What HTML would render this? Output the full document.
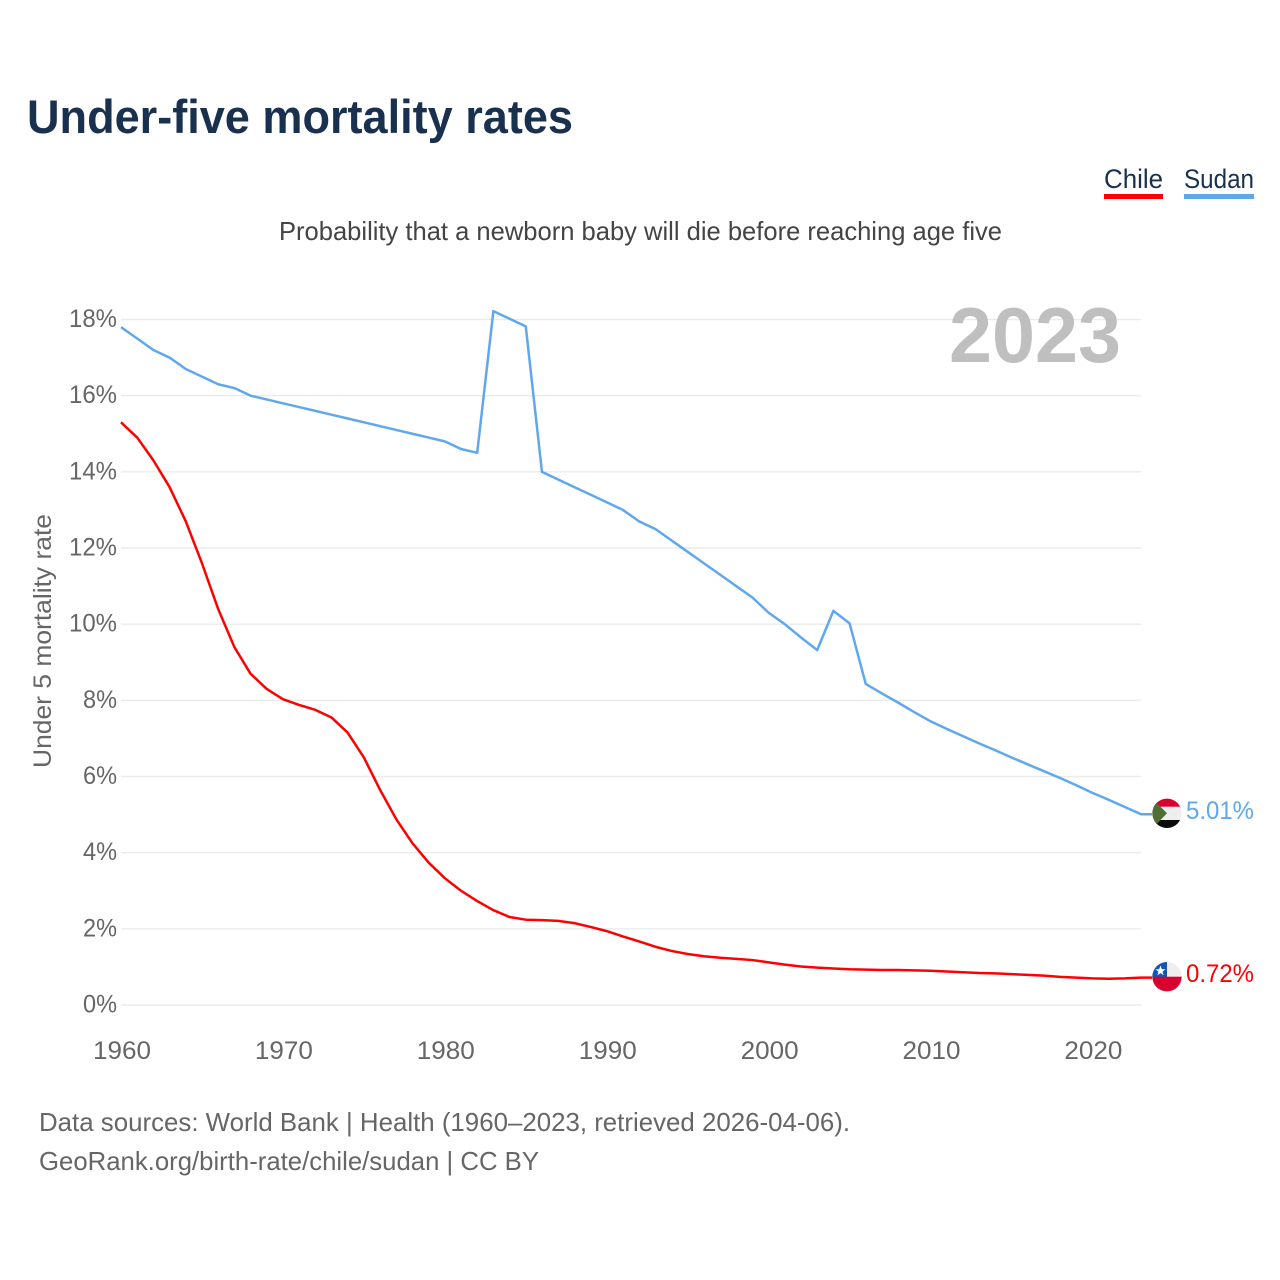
<!DOCTYPE html>
<html lang="en">
<head>
<meta charset="utf-8">
<title>Under-five mortality rates</title>
<style>
html,body{margin:0;padding:0;background:#fff;width:1280px;height:1280px;overflow:hidden}
svg{display:block}
text{font-family:"Liberation Sans",sans-serif}
</style>
</head>
<body>
<svg id="chart" width="1280" height="1280" viewBox="0 0 1280 1280" xmlns="http://www.w3.org/2000/svg">
  <rect x="0" y="0" width="1280" height="1280" fill="#ffffff"/>
  <text x="27" y="133" font-size="47" font-weight="700" fill="#19314f" textLength="546" lengthAdjust="spacingAndGlyphs">Under-five mortality rates</text>
  <text x="279" y="240" font-size="26" fill="#444444" textLength="723" lengthAdjust="spacingAndGlyphs">Probability that a newborn baby will die before reaching age five</text>

  <g>
    <text x="1104" y="188" font-size="27" fill="#19314f" textLength="59" lengthAdjust="spacingAndGlyphs">Chile</text>
    <rect x="1104" y="194" width="59" height="5" fill="#ff0000"/>
  </g>
  <g>
    <text x="1184" y="188" font-size="27" fill="#19314f" textLength="70" lengthAdjust="spacingAndGlyphs">Sudan</text>
    <rect x="1184" y="194" width="70" height="5" fill="#5fa8ee"/>
  </g>

  <g id="grid"></g>
  <g id="yticks"></g>
  <g id="xticks"></g>

  <text x="949" y="362" font-size="78" font-weight="700" fill="#bfbfbf" textLength="172" lengthAdjust="spacingAndGlyphs">2023</text>
  <text transform="translate(51,768) rotate(-90)" x="0" y="0" font-size="25" fill="#666666" textLength="254" lengthAdjust="spacingAndGlyphs">Under 5 mortality rate</text>

  <g id="series"></g>

  <defs>
    <clipPath id="clip-sudan"><circle cx="1167" cy="813.3" r="14.7"/></clipPath>
    <clipPath id="clip-chile"><circle cx="1167" cy="976.7" r="14.7"/></clipPath>
  </defs>

  <g clip-path="url(#clip-sudan)">
    <rect x="1152" y="798" width="30" height="10" fill="#d9002f"/>
    <rect x="1152" y="806.7" width="30" height="14" fill="#eeeeee"/>
    <rect x="1152" y="820" width="30" height="9" fill="#0a0a0a"/>
    <polygon points="1150,796 1167,813.3 1150,831" fill="#4e7033"/>
  </g>
  <g clip-path="url(#clip-chile)">
    <rect x="1152" y="961" width="30" height="16" fill="#eeeeee"/>
    <rect x="1152" y="961" width="15" height="16" fill="#1257b0"/>
    <rect x="1152" y="976.7" width="30" height="16" fill="#d9002f"/>
    <polygon points="1160.5,965.5 1161.9,969.3 1165.5,969.3 1162.6,971.6 1163.6,975.2 1160.5,973.1 1157.4,975.2 1158.4,971.6 1155.5,969.3 1159.1,969.3" fill="#ffffff"/>
  </g>

  <text id="value-sudan" x="1186" y="819" font-size="25" fill="#5fa8ee" textLength="68" lengthAdjust="spacingAndGlyphs"></text>
  <text id="value-chile" x="1186" y="982" font-size="25" fill="#ff0000" textLength="68" lengthAdjust="spacingAndGlyphs"></text>

  <text x="39" y="1131" font-size="26" fill="#666666" textLength="811" lengthAdjust="spacingAndGlyphs">Data sources: World Bank | Health (1960–2023, retrieved 2026-04-06).</text>
  <text x="39" y="1170" font-size="26" fill="#666666" textLength="500" lengthAdjust="spacingAndGlyphs">GeoRank.org/birth-rate/chile/sudan | CC BY</text>
</svg>
<script>
const startYear = 1960;
const endYear = 2023;
const yTicks = [0, 2, 4, 6, 8, 10, 12, 14, 16, 18];
const xTicks = [1960, 1970, 1980, 1990, 2000, 2010, 2020];
const sudanValues = [17.8, 17.5, 17.2, 17.0, 16.7, 16.5, 16.3, 16.2, 16.0, 15.9,
  15.8, 15.7, 15.6, 15.5, 15.4, 15.3, 15.2, 15.1, 15.0, 14.9,
  14.8, 14.6, 14.5, 18.22, 18.02, 17.82, 14.0, 13.8, 13.6, 13.4,
  13.2, 13.0, 12.7, 12.5, 12.2, 11.9, 11.6, 11.3, 11.0, 10.7,
  10.3, 10.0, 9.65, 9.32, 10.35, 10.02, 8.43, 8.18, 7.94, 7.69,
  7.45, 7.25, 7.06, 6.87, 6.69, 6.5, 6.32, 6.14, 5.96, 5.77,
  5.57, 5.39, 5.2, 5.01];
const chileValues = [15.3, 14.9, 14.3, 13.6, 12.7, 11.6, 10.4, 9.4, 8.7, 8.3,
  8.03, 7.88, 7.75, 7.55, 7.15, 6.5, 5.65, 4.88, 4.25, 3.74,
  3.33, 3.0, 2.73, 2.49, 2.31, 2.24, 2.23, 2.21, 2.15, 2.05,
  1.94, 1.8, 1.67, 1.53, 1.42, 1.34, 1.28, 1.24, 1.21, 1.18,
  1.12, 1.06, 1.01, 0.98, 0.96, 0.94, 0.93, 0.92, 0.92, 0.91,
  0.9, 0.88, 0.86, 0.84, 0.83, 0.81, 0.79, 0.77, 0.74, 0.72,
  0.7, 0.69, 0.7, 0.72];

const NS = 'http://www.w3.org/2000/svg';
const xScale = function (year) { return 121 + (year - startYear) * (1141 - 121) / (endYear - startYear); };
const yScale = function (value) { return 1005 - value * (1005 - 319.5) / 18; };

const grid = document.getElementById('grid');
const yGroup = document.getElementById('yticks');
yTicks.forEach(function (t) {
  const line = document.createElementNS(NS, 'line');
  
  
  line.setAttribute('x1', 121);
  line.setAttribute('x2', 1141);
  line.setAttribute('y1', yScale(t));
  line.setAttribute('y2', yScale(t));
  line.setAttribute('stroke', '#ebebeb');
  line.setAttribute('stroke-width', '1.4');
  grid.appendChild(line);

  const label = document.createElementNS(NS, 'text');
  
  
  label.setAttribute('x', 117);
  label.setAttribute('y', yScale(t) + 7.5);
  label.setAttribute('text-anchor', 'end');
  label.setAttribute('font-size', '25');
  label.setAttribute('fill', '#666666');
  label.setAttribute('textLength', t >= 10 ? 48 : 34);
  label.setAttribute('lengthAdjust', 'spacingAndGlyphs');
  label.textContent = t + '%';
  yGroup.appendChild(label);
});

const xGroup = document.getElementById('xticks');
xTicks.forEach(function (t) {
  const label = document.createElementNS(NS, 'text');
  
  
  label.setAttribute('x', xScale(t) + 1);
  label.setAttribute('y', 1059);
  label.setAttribute('text-anchor', 'middle');
  label.setAttribute('font-size', '25');
  label.setAttribute('fill', '#666666');
  label.setAttribute('textLength', 58);
  label.setAttribute('lengthAdjust', 'spacingAndGlyphs');
  label.textContent = t;
  xGroup.appendChild(label);
});

function linePoints(values) {
  return values.map(function (v, i) {
    return xScale(startYear + i).toFixed(2) + ',' + yScale(v).toFixed(2);
  });
}

const seriesGroup = document.getElementById('series');

const sudanLine = document.createElementNS(NS, 'polyline');


sudanLine.setAttribute('points', linePoints(sudanValues).concat([(xScale(endYear) + 11) + ',' + yScale(sudanValues[sudanValues.length - 1])]).join(' '));
sudanLine.setAttribute('fill', 'none');
sudanLine.setAttribute('stroke', '#5fa8ee');
sudanLine.setAttribute('stroke-width', '2.5');
sudanLine.setAttribute('stroke-linejoin', 'round');
seriesGroup.appendChild(sudanLine);

const chileLine = document.createElementNS(NS, 'polyline');


chileLine.setAttribute('points', linePoints(chileValues).concat([(xScale(endYear) + 11) + ',' + yScale(chileValues[chileValues.length - 1])]).join(' '));
chileLine.setAttribute('fill', 'none');
chileLine.setAttribute('stroke', '#ff0000');
chileLine.setAttribute('stroke-width', '2.5');
chileLine.setAttribute('stroke-linejoin', 'round');
seriesGroup.appendChild(chileLine);

document.getElementById('value-sudan').textContent = sudanValues[sudanValues.length - 1].toFixed(2) + '%';
document.getElementById('value-chile').textContent = chileValues[chileValues.length - 1].toFixed(2) + '%';
</script>
</body>
</html>
